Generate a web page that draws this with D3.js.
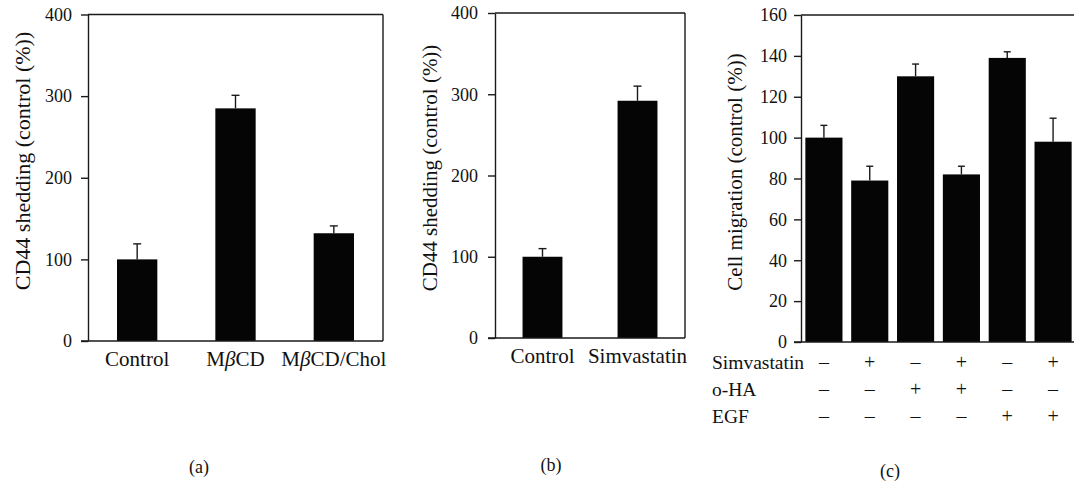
<!DOCTYPE html>
<html>
<head>
<meta charset="utf-8">
<script src="https://cdn.jsdelivr.net/npm/d3@7"></script>
<style>
  body { margin: 0; background: #fff; }
  svg text { font-family: "Liberation Serif", "Times New Roman", serif; fill: #111; }
</style>
</head>
<body>
<div id="chart"></div>
<script>
// panel (a): CD44 shedding after cholesterol depletion
var catsA = ["Control", "MβCD", "MβCD/Chol"];
var valsA = [100, 285, 132];
var errA = [19, 16, 9];

// panel (b): CD44 shedding with simvastatin
var catsB = ["Control", "Simvastatin"];
var valsB = [100, 292];
var errB = [10, 18];

// panel (c): cell migration, six treatment combinations
var catsC = ["c1", "c2", "c3", "c4", "c5", "c6"];
var valsC = [100, 79, 130, 82, 139, 98];
var errC = [6, 7, 6, 4, 3, 11.5];
var rowLabelsC = ["Simvastatin", "o-HA", "EGF"];
var simvSigns = ["–", "+", "–", "+", "–", "+"];
var ohaSigns = ["–", "–", "+", "+", "–", "–"];
var egfSigns = ["–", "–", "–", "–", "+", "+"];

var ticksAB = [0, 100, 200, 300, 400];
var ticksC = [0, 20, 40, 60, 80, 100, 120, 140, 160];

var W = 1074, H = 486;
var ink = "#1a1a1a";

var svg = d3.select("#chart").append("svg")
  .attr("width", W)
  .attr("height", H)
  .style("background", "#fff");

// draws one bar panel, returns the band scale so extra rows can line up with bars
function drawPanel(o) {
  var g = svg.append("g");
  var x = d3.scaleBand().domain(o.cats).range([o.x0, o.x1])
    .paddingInner(o.pad).paddingOuter(o.pad / 2);
  var y = d3.scaleLinear().domain([0, o.max]).range([o.y0, o.y1]);

  // bars
  g.selectAll("rect.bar").data(o.vals).join("rect")
    .attr("class", "bar")
    .attr("x", function(d, i) { return x(o.cats[i]); })
    .attr("width", x.bandwidth())
    .attr("y", function(d) { return y(d); })
    .attr("height", function(d) { return y(0) - y(d); })
    .attr("fill", "#050505");

  // upper error bars only
  var eb = g.selectAll("g.err").data(o.vals).join("g").attr("class", "err");
  eb.append("line")
    .attr("x1", function(d, i) { return x(o.cats[i]) + x.bandwidth() / 2; })
    .attr("x2", function(d, i) { return x(o.cats[i]) + x.bandwidth() / 2; })
    .attr("y1", function(d) { return y(d); })
    .attr("y2", function(d, i) { return y(d + o.err[i]); })
    .attr("stroke", ink).attr("stroke-width", 1.4);
  eb.append("line")
    .attr("x1", function(d, i) { return x(o.cats[i]) + x.bandwidth() / 2 - o.cap; })
    .attr("x2", function(d, i) { return x(o.cats[i]) + x.bandwidth() / 2 + o.cap; })
    .attr("y1", function(d, i) { return y(d + o.err[i]); })
    .attr("y2", function(d, i) { return y(d + o.err[i]); })
    .attr("stroke", ink).attr("stroke-width", 1.4);

  // frame: top and right
  g.append("line").attr("x1", o.x0).attr("x2", o.x1).attr("y1", o.y1).attr("y2", o.y1)
    .attr("stroke", ink).attr("stroke-width", 1.4);
  g.append("line").attr("x1", o.x1).attr("x2", o.x1).attr("y1", o.y1).attr("y2", o.y0)
    .attr("stroke", ink).attr("stroke-width", 1.4);
  // bottom line runs out to the 0 tick
  g.append("line").attr("x1", o.x0 - 7).attr("x2", o.x1).attr("y1", o.y0).attr("y2", o.y0)
    .attr("stroke", ink).attr("stroke-width", 1.4);

  // y axis
  var yAxis = d3.axisLeft(y).tickValues(o.ticks).tickSize(7).tickSizeOuter(0).tickPadding(o.tickPad);
  var ya = g.append("g").attr("transform", "translate(" + o.x0 + ",0)").call(yAxis);
  ya.select(".domain").attr("stroke", ink).attr("stroke-width", 1.4);
  ya.selectAll(".tick line").attr("stroke", ink).attr("stroke-width", 1.4);
  ya.selectAll(".tick text").attr("font-size", 18).attr("font-family", null).attr("fill", "#111");

  // category labels under the bars
  if (o.showCats) {
    var xa = g.append("g").attr("transform", "translate(0," + o.y0 + ")")
      .call(d3.axisBottom(x).tickSize(0).tickPadding(10));
    xa.select(".domain").remove();
    xa.selectAll(".tick text").attr("font-size", 21).attr("font-family", null).attr("fill", "#111")
      .each(function(d) {
        // italic beta
        var t = d3.select(this);
        var parts = d.split("β");
        if (parts.length < 2) return;
        t.text(null);
        parts.forEach(function(p, i) {
          if (i > 0) t.append("tspan").attr("font-style", "italic").text("β");
          t.append("tspan").text(p);
        });
      });
  }

  // y axis title
  svg.append("text")
    .attr("transform", "translate(" + o.lx + "," + o.ly + ") rotate(-90)")
    .attr("text-anchor", "middle")
    .attr("dominant-baseline", "central")
    .attr("font-size", o.lsize)
    .text(o.label);

  return x;
}

drawPanel({
  cats: catsA, vals: valsA, err: errA,
  x0: 88, x1: 383, y0: 341, y1: 14.5, max: 400, pad: 0.59, cap: 4,
  ticks: ticksAB, tickPad: 9, showCats: true,
  label: "CD44 shedding (control (%))", lx: 22, ly: 161, lsize: 22
});

drawPanel({
  cats: catsB, vals: valsB, err: errB,
  x0: 495, x1: 685, y0: 338, y1: 13, max: 400, pad: 0.58, cap: 4,
  ticks: ticksAB, tickPad: 10, showCats: true,
  label: "CD44 shedding (control (%))", lx: 430, ly: 168, lsize: 21
});

var xC = drawPanel({
  cats: catsC, vals: valsC, err: errC,
  x0: 801, x1: 1076, y0: 342, y1: 15, max: 160, pad: 0.19, cap: 3.5,
  ticks: ticksC, tickPad: 7, showCats: false,
  label: "Cell migration (control (%))", lx: 735, ly: 172, lsize: 21
});

// treatment table under panel (c)
var rowSigns = [simvSigns, ohaSigns, egfSigns];
var rowY = [369, 396, 423];
rowLabelsC.forEach(function(lab, r) {
  svg.append("text").attr("x", 712).attr("y", rowY[r]).attr("font-size", 19.5).text(lab);
  svg.selectAll(null).data(rowSigns[r]).join("text")
    .attr("x", function(d, i) { return xC(catsC[i]) + xC.bandwidth() / 2; })
    .attr("y", rowY[r])
    .attr("text-anchor", "middle")
    .attr("font-size", 20)
    .text(function(d) { return d; });
});

// panel captions
var captions = [["(a)", 199, 467], ["(b)", 551, 465], ["(c)", 890, 471]];
captions.forEach(function(c) {
  svg.append("text").attr("x", c[1]).attr("y", c[2])
    .attr("text-anchor", "middle").attr("dominant-baseline", "central")
    .attr("font-size", 18).text(c[0]);
});
</script>
</body>
</html>
